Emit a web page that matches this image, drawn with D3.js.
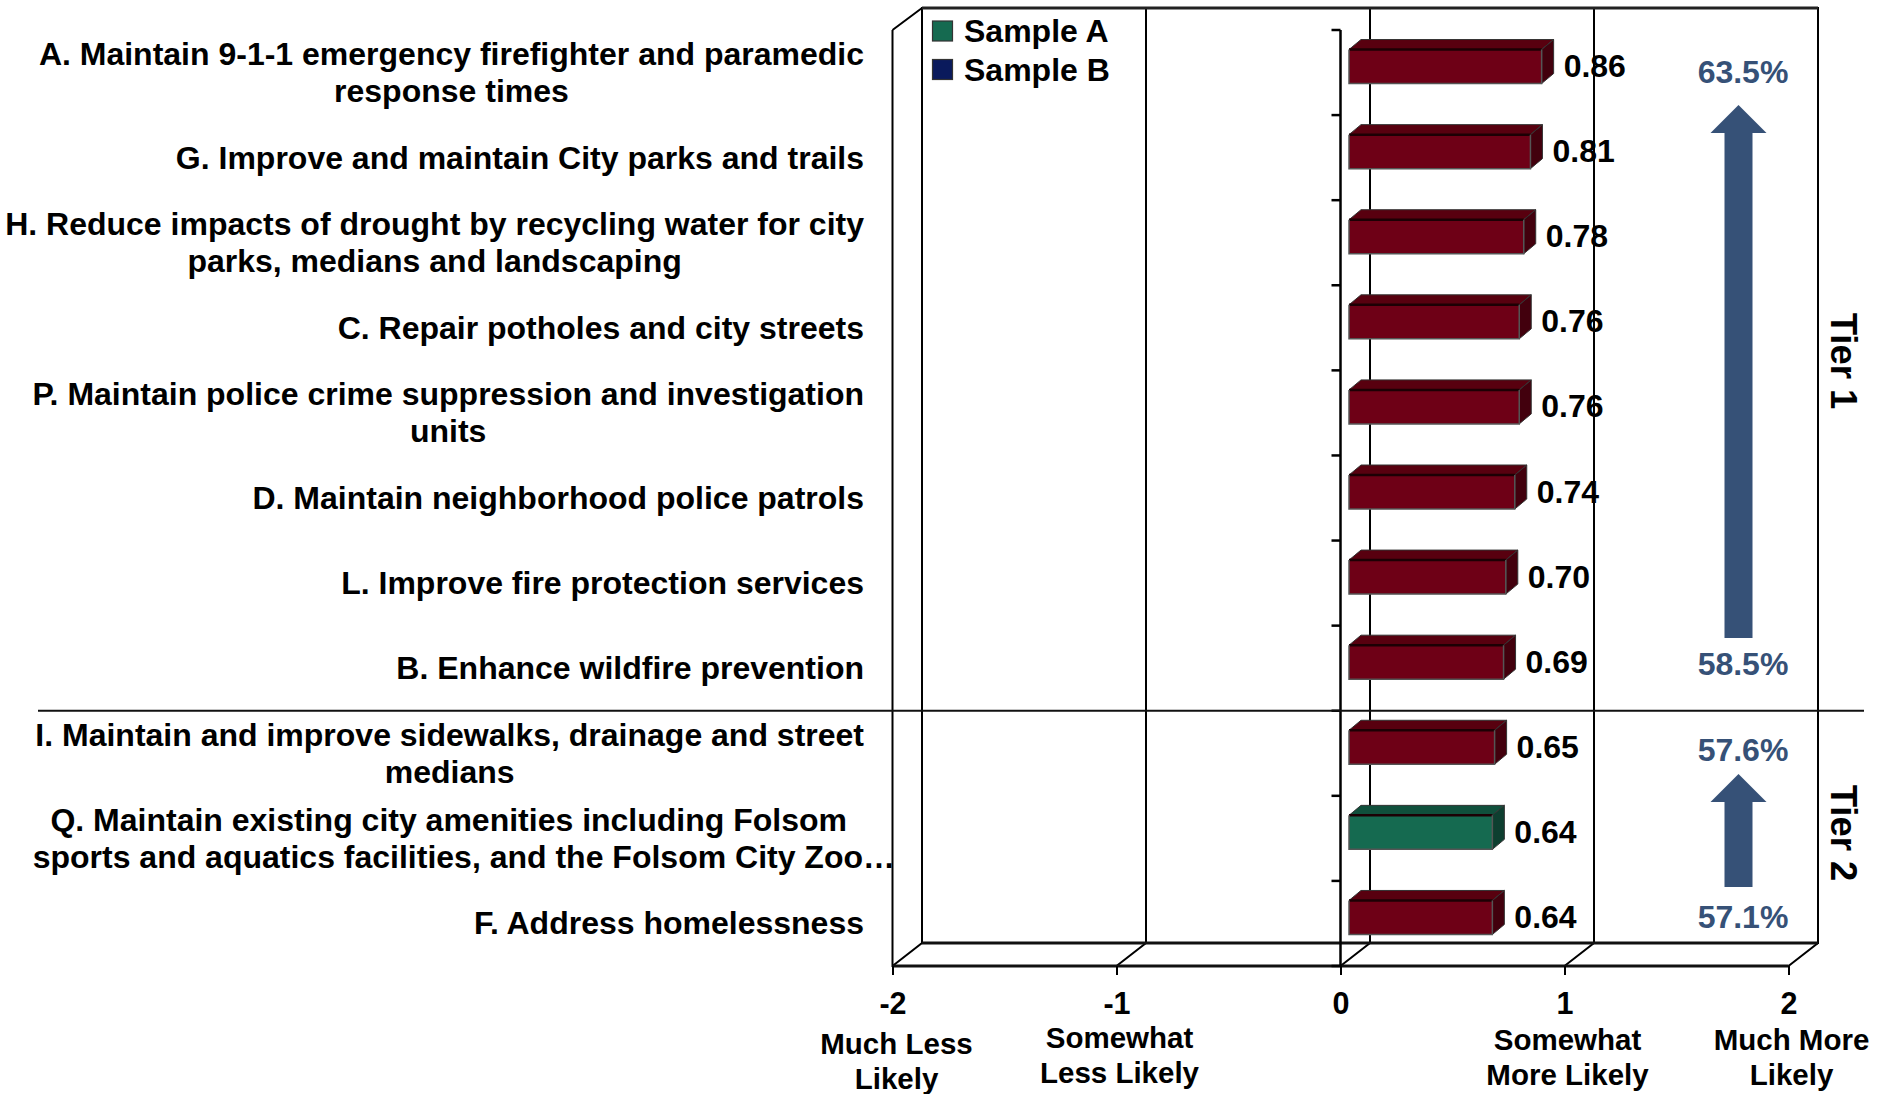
<!DOCTYPE html>
<html><head><meta charset="utf-8">
<script src="https://cdn.jsdelivr.net/npm/d3@7"></script>
<style>html,body{margin:0;padding:0;background:#fff;overflow:hidden}
text{font-family:"Liberation Sans",Arial,sans-serif;font-weight:bold;fill:#000}</style>
</head><body><svg id="c" width="1877" height="1094"></svg>
<script>
const categories=[
 ["A. Maintain 9-1-1 emergency firefighter and paramedic","response times"],
 ["G. Improve and maintain City parks and trails"],
 ["H. Reduce impacts of drought by recycling water for city","parks, medians and landscaping"],
 ["C. Repair potholes and city streets"],
 ["P. Maintain police crime suppression and investigation","units"],
 ["D. Maintain neighborhood police patrols"],
 ["L. Improve fire protection services"],
 ["B. Enhance wildfire prevention"],
 ["I. Maintain and improve sidewalks, drainage and street","medians"],
 ["Q. Maintain existing city amenities including Folsom","sports and aquatics facilities, and the Folsom City Zoo…"],
 ["F. Address homelessness"]];
const values=[0.86,0.81,0.78,0.76,0.76,0.74,0.70,0.69,0.65,0.64,0.64];
const samples=["B","B","B","B","B","B","B","B","B","A","B"];
const xTicks=[-2,-1,0,1,2];
const xCaptions=[["Much Less","Likely"],["Somewhat","Less Likely"],[],["Somewhat","More Likely"],["Much More","Likely"]];
const legendNames=["Sample A","Sample B"];
const tierNames=["Tier 1","Tier 2"];
const tierPercents=[["63.5%","58.5%"],["57.6%","57.1%"]];

const faceColors={A:"#156a50",B:"#6e0016"},topColors={A:"#10503c",B:"#58000f"},sideColors={A:"#0e3f30",B:"#42000d"};
const navy="#0a1a5c",blue="#365177";
const svg=d3.select("#c");
const x=d3.scaleLinear().domain([-2,2]).range([892.5,1788.5]);
const y=d3.scaleBand().domain(d3.range(categories.length)).range([30,966]);
const dx=29.5,dy=23;
const wall=svg.append("g").attr("fill","none").attr("stroke","#000").attr("stroke-width",2);
wall.append("rect").attr("x",x(-2)+dx).attr("y",8).attr("width",x(2)-x(-2)).attr("height",966-dy-8);
wall.append("path").attr("d",`M${x(-2)},30L${x(-2)+dx},8M${x(-2)},30V966H${x(2)}`);
wall.selectAll(".g").data(xTicks).join("path")
 .attr("d",d=>`M${x(d)+dx},8V${966-dy}L${x(d)},966`);
svg.append("line").attr("x1",x(-2)+dx).attr("x2",x(2)+dx).attr("y1",8).attr("y2",8).attr("stroke","#222").attr("stroke-width",3);
svg.append("line").attr("x1",x(-2)).attr("x2",x(2)).attr("y1",966).attr("y2",966).attr("stroke","#111").attr("stroke-width",3);
svg.append("line").attr("x1",x(-2)+dx).attr("x2",x(2)+dx).attr("y1",943).attr("y2",943).attr("stroke","#111").attr("stroke-width",3);

const ax=svg.append("g").attr("transform","translate(0,966)").call(d3.axisBottom(x).tickValues(xTicks).tickSize(9).tickPadding(17).tickFormat(d3.format("d")));
ax.select(".domain").remove();
ax.selectAll("line").attr("stroke","#000").attr("stroke-width",2);
ax.selectAll("text").attr("font-size",30.5).style("font-family",'"Liberation Sans",Arial,sans-serif').style("font-weight","bold").attr("fill","#000").text(d=>d);
const ay=svg.append("g").attr("transform",`translate(${x(0)},0)`);
ay.append("line").attr("y1",30).attr("y2",966).attr("stroke","#000").attr("stroke-width",2.5);
const yTickPos=d3.range(categories.length+1).map(i=>30+i*y.step());
ay.selectAll(".t").data(yTickPos).join("line").attr("x1",-9).attr("x2",0).attr("y1",d=>d).attr("y2",d=>d).attr("stroke","#000").attr("stroke-width",2.5);

const capG=svg.append("g").attr("font-size",29.5).attr("text-anchor","middle");
const capDx=[4,3,0,3,3],capY=[1054,1048,0,1050,1050];
xCaptions.forEach((c,i)=>c.forEach((t,j)=>capG.append("text")
 .attr("x",x(xTicks[i])+capDx[i]).attr("y",capY[i]+j*35).text(t)));

svg.append("line").attr("x1",38).attr("x2",1864).attr("y1",y.step()*8+30).attr("y2",y.step()*8+30).attr("stroke","#111").attr("stroke-width",2);

const inset=8.5,bh=34,bdx=12,bdy=10;
const bars=svg.append("g").selectAll("g").data(values).join("g")
 .attr("transform",(d,i)=>`translate(${x(0)+inset},${y(i)+y.bandwidth()/2-6.5-bh/2+0.5})`);
bars.append("path").attr("fill",(d,i)=>topColors[samples[i]]).attr("stroke","#333").attr("stroke-width",1)
 .attr("d",d=>{const w=x(d)-x(0);return `M0,0L${bdx},${-bdy}H${w+bdx}L${w},0Z`});
bars.append("path").attr("fill",(d,i)=>sideColors[samples[i]]).attr("stroke","#333").attr("stroke-width",1)
 .attr("d",d=>{const w=x(d)-x(0);return `M${w},0L${w+bdx},${-bdy}V${bh-bdy}L${w},${bh}Z`});
bars.append("rect").attr("width",d=>x(d)-x(0)).attr("height",bh).attr("fill",(d,i)=>faceColors[samples[i]]);
bars.append("path").attr("fill","none").attr("stroke","#1c0004").attr("stroke-width",2.5)
 .attr("d",d=>`M0,0H${x(d)-x(0)}`);
bars.append("path").attr("fill","none").attr("stroke","#555").attr("stroke-width",1.5)
 .attr("d",d=>`M0,0V${bh}H${x(d)-x(0)}V0`);

svg.append("g").attr("font-size",32).selectAll("text").data(values).join("text")
 .attr("x",d=>x(d)+inset+bdx+10).attr("y",(d,i)=>y(i)+y.bandwidth()/2-7).attr("dy","0.36em").text(d=>d.toFixed(2));

const labelRight=864,lineH=37;
const labG=svg.append("g").attr("font-size",32);
categories.forEach((lines,i)=>{
 const cy=y(i)+y.bandwidth()/2-0.5;
 const nodes=lines.map((t,j)=>labG.append("text").attr("y",cy+(j-(lines.length-1)/2)*lineH).attr("dy","0.36em").text(t));
 const maxW=d3.max(nodes,n=>n.node().getComputedTextLength());
 nodes.forEach((n,j)=>{
  if(i===9){n.attr("text-anchor","end").attr("x",j===0?847:895);}
  else n.attr("text-anchor","middle").attr("x",labelRight-maxW/2);
 });
});

const leg=svg.append("g").selectAll("g").data(legendNames).join("g").attr("transform",(d,i)=>`translate(932.5,${21+i*38.5})`);
leg.append("rect").attr("width",20).attr("height",20).attr("fill",(d,i)=>i?navy:faceColors.A).attr("stroke","#333").attr("stroke-width",1.2);
leg.append("text").attr("x",31.5).attr("y",9.5).attr("dy","0.36em").attr("font-size",32).text(d=>d);

const arrowX=1738.5,arrowSpec=[[105,638],[774,887]],pctY=[[71,663],[749,916]],tierY=[361,833];
arrowSpec.forEach(([a,b])=>svg.append("path").attr("fill",blue)
 .attr("d",`M${arrowX},${a}L${arrowX+28},${a+28}H${arrowX+14}V${b}H${arrowX-14}V${a+28}H${arrowX-28}Z`));
tierPercents.forEach((p,i)=>p.forEach((t,j)=>svg.append("text").attr("x",1743).attr("y",pctY[i][j]).attr("dy","0.36em")
 .attr("text-anchor","middle").attr("font-size",32).style("fill",blue).text(t)));
tierNames.forEach((t,i)=>svg.append("text").attr("transform",`translate(1844,${tierY[i]}) rotate(90)`)
 .attr("text-anchor","middle").attr("dy","0.36em").attr("font-size",36.5).text(t));
</script></body></html>
